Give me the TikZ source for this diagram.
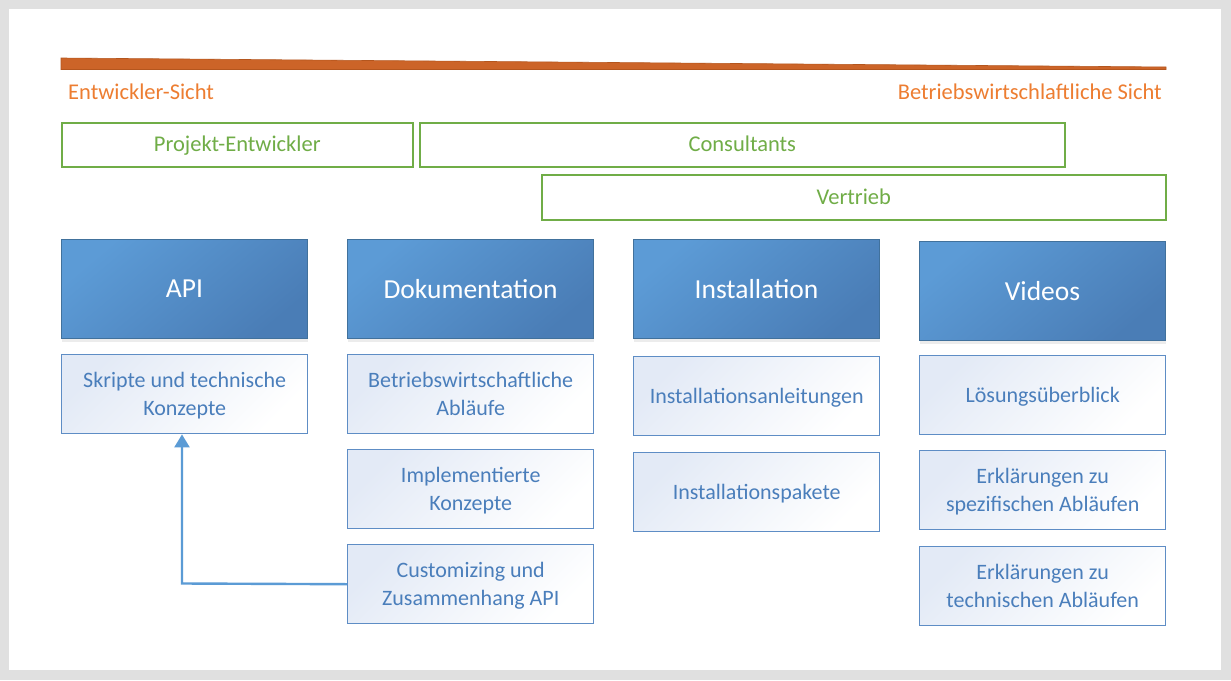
\documentclass[tikz,border=0pt]{standalone}
\usepackage{fontspec}
\setmainfont{Carlito}
\usetikzlibrary{arrows.meta,shadows}
\definecolor{frame}{HTML}{E0E0E0}
\definecolor{wedge}{HTML}{CC6428}
\definecolor{wedgeedge}{HTML}{B4561E}
\definecolor{orangetxt}{HTML}{ED7D31}
\definecolor{greenc}{HTML}{70AD47}
\definecolor{hdrA}{HTML}{5C9BD6}
\definecolor{hdrB}{HTML}{4A7DB6}
\definecolor{hdrEdge}{HTML}{41719C}
\definecolor{subEdge}{HTML}{5E8DC5}
\definecolor{subFill}{HTML}{E3EAF6}
\definecolor{subTxt}{HTML}{4A7EBB}
\definecolor{arrowc}{HTML}{5B9BD5}
\tikzset{
  x=1pt,y=-1pt,
  oneline/.style={text height=14.3pt, text depth=0pt},
  role/.style={draw=greenc, line width=1.6pt, fill=white, text=greenc, font=\fontsize{22.5}{26}\selectfont, anchor=north west, inner sep=0pt, oneline},
  hdr/.style={draw=hdrEdge, line width=1pt, left color=hdrA, right color=hdrB, shading angle=40, text=white, font=\fontsize{27.5}{32}\selectfont, minimum width=246pt, minimum height=99pt, anchor=north west, inner sep=0pt, drop shadow={opacity=0.15, shadow xshift=0pt, shadow yshift=-3pt}},
  sub/.style={draw=subEdge, line width=1.4pt, left color=subFill, right color=white, shading angle=45, text=subTxt, font=\fontsize{22}{28}\selectfont, align=center, minimum width=246pt, minimum height=79pt, anchor=north west, inner sep=0pt, text depth=0pt},
  lbl/.style={text=orangetxt, font=\fontsize{22.5}{26}\selectfont, inner sep=0pt, oneline},
  arr/.style={draw=arrowc, line width=2.4pt, -{Triangle[length=13pt,width=15pt]}}
}
\begin{document}
\begin{tikzpicture}
\useasboundingbox (0,0) rectangle (1231,680);
\fill[frame] (0,0) rectangle (1231,680);
\fill[white] (9,9) rectangle (1221,670);
% wedge
\fill[wedge, draw=wedgeedge, line width=0.6pt] (61,58) -- (1166,67) -- (1166,69.5) -- (61,69.5) -- cycle;
\node[lbl, anchor=west] (dev) at (68,92) {Entwickler-Sicht};
\node[lbl, anchor=east] (biz) at (1162,92) {Betriebswirtschlaftliche Sicht};
% role boxes
\node[role, minimum width=351pt, minimum height=44pt] (pe) at (61,122) {Projekt-Entwickler};
\node[role, minimum width=645pt, minimum height=44pt] (cons) at (419,122) {Consultants};
\node[role, minimum width=624pt, minimum height=45pt] (vert) at (541,174) {Vertrieb};
% headers
\node[hdr] (api) at (61,239) {API};
\node[hdr] (doku) at (347,239) {Dokumentation};
\node[hdr] (inst) at (633,239) {Installation};
\node[hdr] (vid) at (919,241) {Videos};
% sub boxes
\node[sub] (skr) at (61,354) {Skripte und technische\\Konzepte};
\node[sub] (bwa) at (347,354) {Betriebswirtschaftliche\\Abläufe};
\node[sub] (impl) at (347,449) {Implementierte\\Konzepte};
\node[sub] (cust) at (347,544) {Customizing und\\Zusammenhang API};
\node[sub, oneline] (ianl) at (633,356) {Installationsanleitungen};
\node[sub, oneline] (ipak) at (633,452) {Installationspakete};
\node[sub, oneline] (loes) at (919,355) {Lösungsüberblick};
\node[sub] (erks) at (919,450) {Erklärungen zu\\spezifischen Abläufen};
\node[sub] (erkt) at (919,546) {Erklärungen zu\\technischen Abläufen};
% connector
\coordinate (bend) at (182,583.5);
\draw[arr] (cust.west) -- (bend) -- (bend |- skr.south);
\end{tikzpicture}
\end{document}
